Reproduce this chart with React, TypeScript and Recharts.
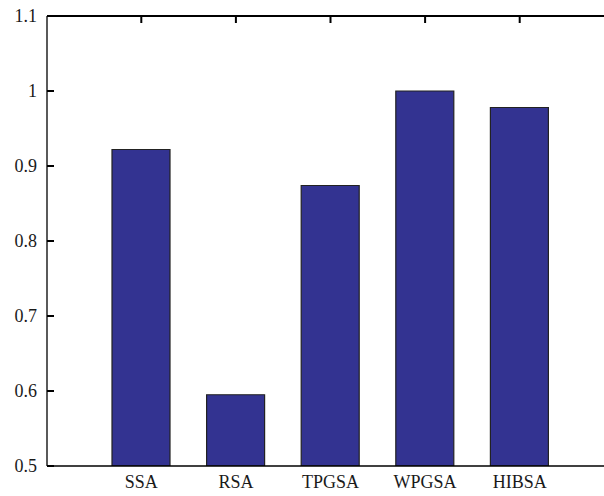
import React from 'react';
import { BarChart, Bar, XAxis, YAxis, ReferenceLine } from 'recharts';

const categories = ['SSA', 'RSA', 'TPGSA', 'WPGSA', 'HIBSA'];
const values = [0.922, 0.595, 0.874, 1.0, 0.978];
const yTicks = [0.5, 0.6, 0.7, 0.8, 0.9, 1, 1.1];

const data = categories.map((name, i) => ({ name, value: values[i] }));

const font: React.CSSProperties = { fontFamily: '"Liberation Serif", serif', fontSize: 18, fill: '#1a1a1a' };
const TICK = 7;
const MARGIN_TOP = 16;

const XTick = (props: any) => {
  const { x, y, payload } = props;
  return (
    <g>
      {/* inward stub hanging from the top frame */}
      <rect x={x - 1} y={MARGIN_TOP} width={2} height={TICK} fill="#000" />
      <text x={x} y={y} dy="0.71em" textAnchor="middle" style={font}>
        {payload.value}
      </text>
    </g>
  );
};

// label plus an inward tick stub (axis line sits 10px right of the label anchor)
const YTick = (props: any) => {
  const { x, y, payload } = props;
  return (
    <g>
      <rect x={x + 10} y={y - 1} width={TICK} height={2} fill="#000" />
      <text x={x} y={y} dy="0.36em" textAnchor="end" style={font}>
        {String(payload.value)}
      </text>
    </g>
  );
};

export default function App() {
  return (
    <div style={{ position: 'absolute', left: 0, top: 0, width: 604, height: 496, overflow: 'hidden', background: '#fff' }}>
      <BarChart width={640} height={496} data={data} margin={{ top: MARGIN_TOP, right: 26, bottom: 0, left: 0 }}>
        <XAxis
          dataKey="name"
          padding={{ left: 47, right: 47 }}
          height={30}
          tickLine={false}
          tickSize={0}
          tickMargin={9}
          axisLine={{ stroke: '#000', strokeWidth: 1.3 }}
          tick={<XTick />}
          interval={0}
        />
        <YAxis
          domain={[0.5, 1.1]}
          ticks={yTicks}
          allowDataOverflow
          width={47}
          tickLine={false}
          tickSize={0}
          tickMargin={10}
          axisLine={{ stroke: '#000', strokeWidth: 1.3 }}
          tick={<YTick />}
          interval={0}
        />
        <Bar
          dataKey="value"
          barSize={58}
          fill="#333391"
          stroke="#222"
          strokeWidth={1.2}
          isAnimationActive={false}
        />
        {/* top frame line */}
        <ReferenceLine y={1.1} stroke="#000" strokeWidth={2} ifOverflow="visible" />
      </BarChart>
    </div>
  );
}
